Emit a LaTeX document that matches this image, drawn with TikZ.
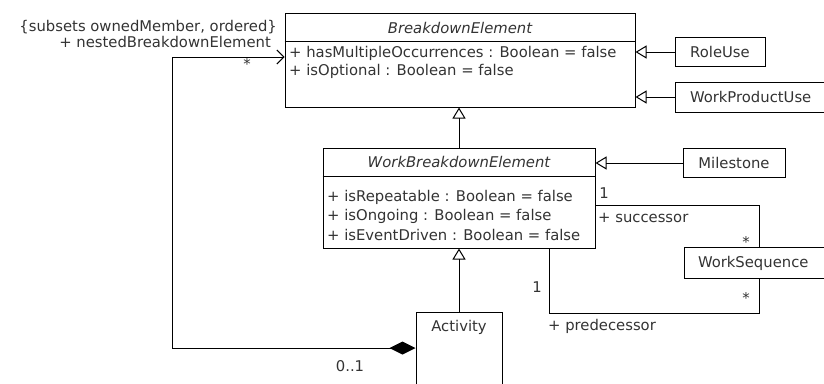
\documentclass[tikz,border=0pt]{standalone}
\usepackage{fontspec}
\setmainfont{DejaVu Sans}
\usetikzlibrary{arrows.meta}

\begin{document}
\begin{tikzpicture}[
    x=1pt, y=-1pt,
    font=\fontsize{14.8}{17}\selectfont,
    every node/.style={text=black!80},
    cls/.style={rectangle, draw, line width=1pt, inner sep=0pt},
    title/.style={font=\fontsize{14.8}{17}\selectfont\itshape},
    attr/.style={anchor=west, inner sep=0pt},
    lbl/.style={inner sep=0pt},
    gen/.style={line width=1pt, -{Triangle[open, length=11pt, width=13pt]}},
    assoc/.style={line width=1pt}
]
\useasboundingbox (0,0) rectangle (824,383);

% BreakdownElement
\node[cls, minimum width=350pt, minimum height=94pt] at (460,60) (be) {};
\draw[line width=1pt] ([yshift=-29pt]be.north west) -- ([yshift=-29pt]be.north east);
\node[title] at (460,28) (betitle) {BreakdownElement};
\node[attr] at (289,53) (bea1) {+ hasMultipleOccurrences : Boolean = false};
\node[attr] at (289,71) (bea2) {+ isOptional : Boolean = false};

% Unterklassen rechts
\node[cls, minimum width=90pt, minimum height=29pt] at (720,52) (roleuse) {RoleUse};
\node[cls, minimum width=155pt, minimum height=30pt, text width=125pt] at (752.5,97) (wpu) {WorkProductUse};

% WorkBreakdownElement
\node[cls, minimum width=272pt, minimum height=100pt] at (459,198) (wbe) {};
\draw[line width=1pt] ([yshift=-29pt]wbe.north west) -- ([yshift=-29pt]wbe.north east);
\node[title] at (459,162) (wbetitle) {WorkBreakdownElement};
\node[attr] at (327,197) (wbea1) {+ isRepeatable : Boolean = false};
\node[attr] at (327,216) (wbea2) {+ isOngoing : Boolean = false};
\node[attr] at (327,235) (wbea3) {+ isEventDriven : Boolean = false};

\node[cls, minimum width=102pt, minimum height=29pt] at (734,163) (milestone) {Milestone};
\node[cls, minimum width=150pt, minimum height=31pt, text width=122pt] at (759,263) (wseq) {WorkSequence};

% Activity
\node[cls, minimum width=86pt, minimum height=90pt] at (459,357) (activity) {};
\node at (459,327) (acttitle) {Activity};

% Generalisierungen
\draw[gen] (roleuse.west) -- (roleuse.west -| be.east);
\draw[gen] (wpu.west) -- (wpu.west -| be.east);
\draw[gen] (wbe.north) -- (wbe.north |- be.south);
\draw[gen] (milestone.west) -- (milestone.west -| wbe.east);
\draw[gen] (activity.north) -- (activity.north |- wbe.south);

% WorkSequence Assoziationen
\draw[assoc] ([yshift=-7pt]wbe.east) -| (wseq.north);
\draw[assoc] ([xshift=90pt]wbe.south) -- ++(0,65) -| (wseq.south);
\node[lbl] at (604,193) (succmult) {1};
\node[lbl, anchor=west] at (598,218) (succname) {+ successor};
\node[lbl] at (746,242) (succstar) {*};
\node[lbl] at (537,287) (predmult) {1};
\node[lbl] at (746,298) (predstar) {*};
\node[lbl, anchor=west] at (548,326) (predname) {+ predecessor};

% Komposition
\coordinate (turn) at (172,57);
\draw[line width=1pt, {Straight Barb[length=7pt, width=14pt]}-{Diamond[length=26pt, width=13pt]}]
    ([yshift=3pt]be.west) -- (turn) |- ([yshift=9pt]activity.west);
\node[lbl, anchor=east] at (277,27) (subsets) {\{subsets ownedMember, ordered\}};
\node[lbl, anchor=east] at (271,42) (nested) {+ nestedBreakdownElement};
\node[lbl] at (247,64) (neststar) {*};
\node[lbl] at (350,366) (owner) {0..1};
\end{tikzpicture}
\end{document}
